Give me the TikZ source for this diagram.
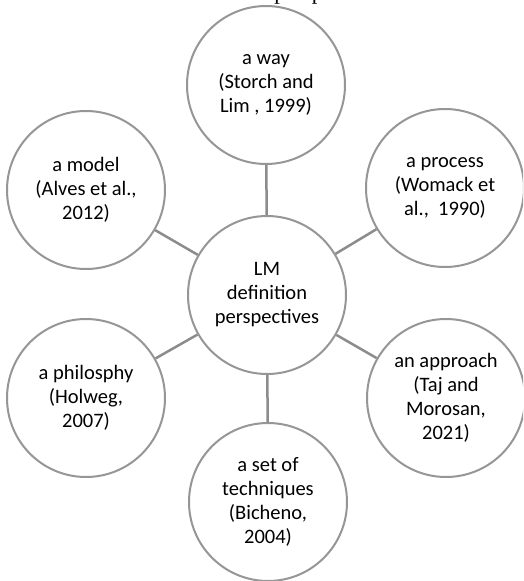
\documentclass[tikz,border=0pt]{standalone}
\usepackage{fontspec}
\setmainfont{Carlito}
\newfontfamily\capfont{Liberation Serif}
\definecolor{ringgray}{RGB}{150,150,150}
\definecolor{linkgray}{RGB}{140,140,140}
\tikzset{
  bubble/.style={circle, draw=ringgray, line width=2pt, fill=white,
    minimum size=158pt, inner sep=0pt, align=center,
    font=\fontsize{20.5}{24}\selectfont},
  link/.style={draw=linkgray, line width=2.5pt}
}
\begin{document}
\begin{tikzpicture}[x=1pt,y=1pt]
\useasboundingbox (0,0) rectangle (523,-581);
\clip (0,0) rectangle (523,-581);
\node[anchor=base, font=\capfont\fontsize{22.5}{26}\selectfont, inner sep=0pt] (cap) at (220,0.3) {Different LM definition perspectives};
\node[bubble] (c) at (267,-295) {LM\\definition\\perspectives};
\node[bubble] (t) at (266,-85) {a way\\(Storch and\\Lim , 1999)};
\node[bubble] (m) at (86,-190) {a model\\(Alves et al.,\\2012)};
\node[bubble] (p) at (445,-188) {a process\\(Womack et\\al.,~~1990)};
\node[bubble] (h) at (86,-398) {a philosphy\\(Holweg,\\2007)};
\node[bubble] (a) at (446,-398) {an approach\\(Taj and\\Morosan,\\2021)};
\node[bubble] (s) at (268,-502) {a set of\\techniques\\(Bicheno,\\2004)};
\foreach \n in {t,m,p,h,a,s} \draw[link] (c) -- (\n);
\end{tikzpicture}
\end{document}
